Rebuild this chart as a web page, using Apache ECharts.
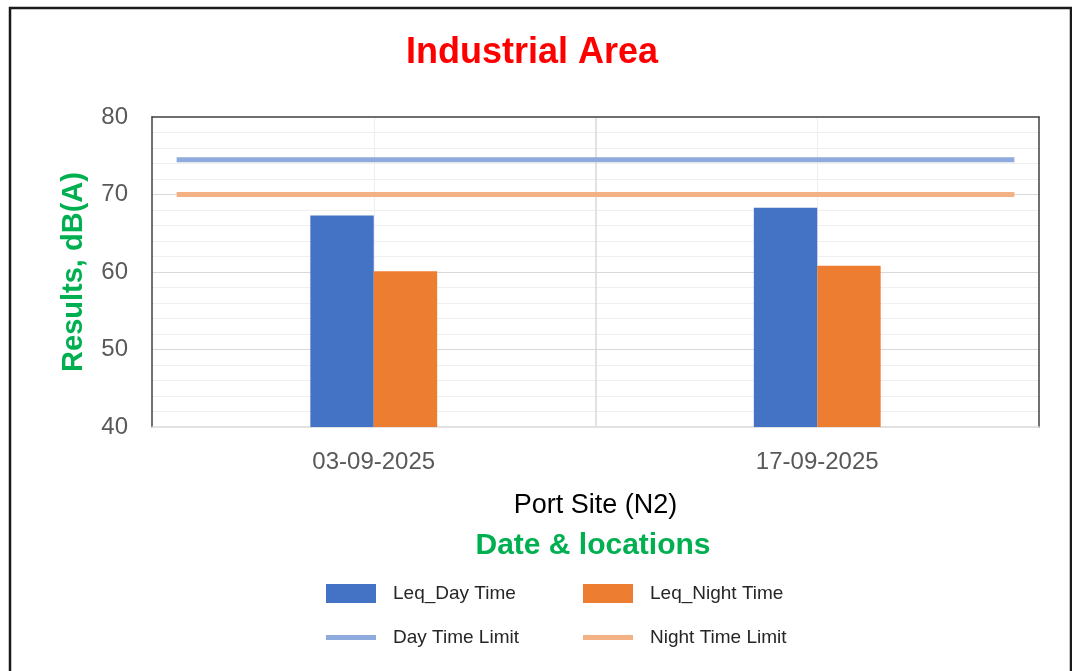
<!DOCTYPE html>
<html>
<head>
<meta charset="utf-8">
<script src="https://cdn.jsdelivr.net/npm/echarts@6/dist/echarts.min.js"></script>
<style>
  html, body { margin: 0; padding: 0; background: #fff; }
  #chart { width: 1072px; height: 671px; }
</style>
</head>
<body>
<div id="chart"></div>
<script>
// values
var categories = ['03-09-2025', '17-09-2025'];
var leqDay = [67.3, 68.3];
var leqNight = [60.1, 60.8];
var dayLimit = 74.5;
var nightLimit = 70;
var yRange = [40, 80];
var yStep = 10;
// limit lines run across the plot on a hidden 0..36 axis
var spanAxis = [0, 36];
var limitSpan = [1, 35];

var FONT = '"Liberation Sans", Arial, sans-serif';
var lineIcon = 'path://M0,0M50,19M0,7h50v5h-50z';

var limitData = function(v) {
	return limitSpan.map(function(x) { return [x, v]; });
};

var chart = echarts.init(document.getElementById('chart'));
chart.setOption({
	animation: false,
	textStyle: { fontFamily: FONT },
	title: [
		{
			text: 'Industrial Area', left: 532, top: 35, textAlign: 'center', padding: 0,
			textStyle: { color: '#ff0000', fontSize: 36, fontWeight: 'bold', fontFamily: FONT }
		},
		{
			text: 'Date & locations', left: 593, top: 531, textAlign: 'center', padding: 0,
			textStyle: { color: '#00b050', fontSize: 30, fontWeight: 'bold', fontFamily: FONT }
		}
	],
	graphic: [{
		type: 'rect', silent: true,
		shape: { x: 10, y: 8, width: 1061, height: 700 },
		style: { fill: 'none', stroke: '#1a1a1a', lineWidth: 2.5 }
	}],
	legend: [
		{
			orient: 'vertical', left: 321, top: 579, itemWidth: 50, itemHeight: 19, itemGap: 25,
			textStyle: { fontSize: 19, color: '#262626', padding: [0, 0, 0, 12], fontFamily: FONT },
			data: [{ name: 'Leq_Day Time', icon: 'rect' }, { name: 'Day Time Limit', icon: lineIcon }]
		},
		{
			orient: 'vertical', left: 578, top: 579, itemWidth: 50, itemHeight: 19, itemGap: 25,
			textStyle: { fontSize: 19, color: '#262626', padding: [0, 0, 0, 12], fontFamily: FONT },
			data: [{ name: 'Leq_Night Time', icon: 'rect' }, { name: 'Night Time Limit', icon: lineIcon }]
		}
	],
	grid: { left: 152, right: 33, top: 117, bottom: 244, containLabel: false, outerBoundsMode: 'none' },
	xAxis: [
		{
			type: 'category', data: categories, position: 'bottom',
			axisLine: { lineStyle: { color: '#d9d9d9', width: 1.5 } },
			axisTick: { show: false },
			axisLabel: { fontSize: 24, color: '#595959', margin: 23, fontFamily: FONT },
			splitLine: { show: false },
			name: 'Port Site (N2)', nameLocation: 'middle', nameGap: 65,
			nameTextStyle: { fontSize: 27, color: '#000', fontFamily: FONT }
		},
		{
			type: 'value', position: 'top', min: spanAxis[0], max: spanAxis[1], interval: 18,
			axisLine: { show: true, onZero: false, lineStyle: { color: '#404040', width: 1.5 } },
			axisTick: { show: false }, axisLabel: { show: false },
			splitLine: { show: true, showMinLine: false, showMaxLine: false, lineStyle: { color: '#d9d9d9', width: 1.5 } },
			minorTick: { show: false, splitNumber: 2 },
			minorSplitLine: { show: true, lineStyle: { color: '#eeeeee', width: 1 } }
		}
	],
	yAxis: [
		{
			type: 'value', min: yRange[0], max: yRange[1], interval: yStep, position: 'left',
			axisLine: { show: true, lineStyle: { color: '#404040', width: 1.5 } },
			axisTick: { show: false },
			axisLabel: { fontSize: 24, color: '#595959', margin: 24, fontFamily: FONT },
			splitLine: { show: true, showMinLine: false, showMaxLine: false, lineStyle: { color: '#d9d9d9', width: 1 } },
			minorTick: { show: false, splitNumber: 5 },
			minorSplitLine: { show: true, lineStyle: { color: '#efefef', width: 1 } },
			name: 'Results, dB(A)', nameLocation: 'middle', nameRotate: 90, nameGap: 64,
			nameTextStyle: { fontSize: 29, color: '#00b050', fontWeight: 'bold', fontFamily: FONT }
		},
		{
			type: 'value', min: yRange[0], max: yRange[1], interval: yStep, position: 'right',
			axisLine: { show: true, lineStyle: { color: '#404040', width: 1.5 } },
			axisTick: { show: false }, axisLabel: { show: false }, splitLine: { show: false }
		}
	],
	series: [
		{
			name: 'Leq_Day Time', type: 'bar', xAxisIndex: 0, yAxisIndex: 0, data: leqDay,
			barGap: '0%', barCategoryGap: '71.4%', itemStyle: { color: '#4472c4' }
		},
		{
			name: 'Leq_Night Time', type: 'bar', xAxisIndex: 0, yAxisIndex: 0, data: leqNight,
			barGap: '0%', barCategoryGap: '71.4%', itemStyle: { color: '#ed7d31' }
		},
		{
			name: 'Day Time Limit', type: 'line', xAxisIndex: 1, yAxisIndex: 0, data: limitData(dayLimit),
			symbol: 'none', lineStyle: { color: '#8faadc', width: 5 }, itemStyle: { color: '#8faadc' }
		},
		{
			name: 'Night Time Limit', type: 'line', xAxisIndex: 1, yAxisIndex: 0, data: limitData(nightLimit),
			symbol: 'none', lineStyle: { color: '#f4b183', width: 5 }, itemStyle: { color: '#f4b183' }
		}
	]
});
</script>
</body>
</html>
